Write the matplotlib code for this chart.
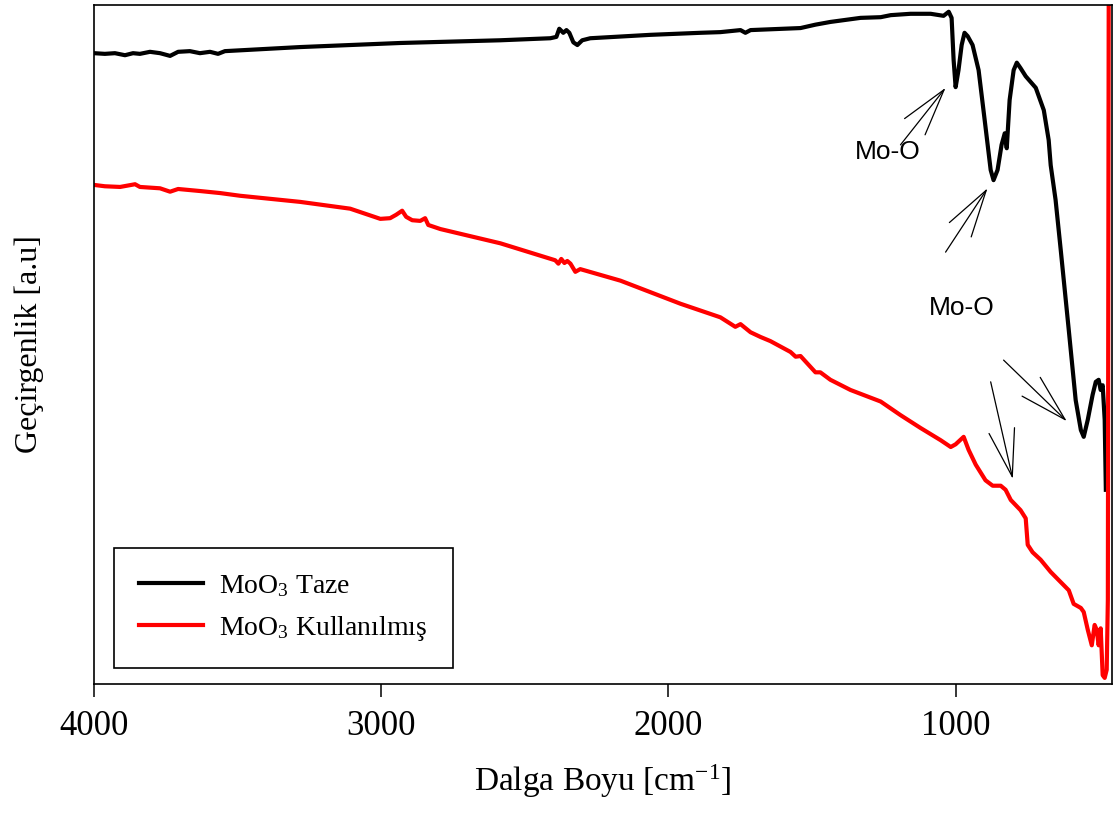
import matplotlib.pyplot as plt
import numpy as np

plt.rcParams['font.family'] = ['Liberation Serif', 'DejaVu Serif']
plt.rcParams['mathtext.fontset'] = 'custom'
plt.rcParams['mathtext.rm'] = 'Liberation Serif'
plt.rcParams['mathtext.it'] = 'Liberation Serif:italic'

# fresh sample
wn_taze = [4000, 3962, 3927, 3892, 3864, 3840, 3805, 3770, 3735, 3707, 3666, 3631, 3596, 3568, 3544,
           3282, 2934, 2585, 2411, 2390, 2380, 2366, 2355, 2345, 2331, 2317, 2300, 2272, 2063, 1889,
           1819, 1749, 1732, 1714, 1540, 1488, 1436, 1331, 1261, 1226, 1157, 1087, 1042, 1024, 1014,
           1007, 1000, 990, 979, 969, 958, 941, 920, 899, 878, 868, 854, 840, 829, 822, 812, 798, 787,
           774, 756, 721, 693, 676, 669, 652, 634, 606, 582, 564, 554, 540, 523, 512, 502, 495, 488,
           481, 477]
t_taze = [92.9, 92.8, 92.9, 92.6, 92.9, 92.8, 93.1, 92.9, 92.5, 93.1, 93.2, 92.9, 93.1, 92.8, 93.2,
          93.8, 94.4, 94.8, 95.1, 95.3, 96.5, 95.9, 96.3, 95.9, 94.5, 94.1, 94.8, 95.1, 95.6, 95.9,
          96.0, 96.3, 95.9, 96.3, 96.6, 97.1, 97.5, 98.1, 98.2, 98.5, 98.7, 98.7, 98.4, 99.0, 98.1,
          91.9, 87.9, 90.4, 94.1, 95.9, 95.4, 94.1, 90.4, 83.1, 75.7, 74.2, 75.7, 79.4, 81.1, 78.9,
          86.0, 90.4, 91.5, 90.7, 89.5, 87.8, 84.5, 80.1, 76.4, 71.3, 63.9, 52.1, 41.8, 37.4, 36.4,
          38.9, 42.6, 44.5, 44.8, 43.3, 44.0, 38.9, 28.6]

# used sample
wn_kul = [4000, 3962, 3909, 3857, 3840, 3770, 3735, 3707, 3631, 3561, 3491, 3282, 3108, 3003, 2969,
          2948, 2927, 2913, 2892, 2864, 2847, 2836, 2794, 2585, 2394, 2383, 2373, 2362, 2352, 2341,
          2324, 2307, 2167, 1958, 1819, 1767, 1749, 1714, 1679, 1645, 1575, 1557, 1540, 1488, 1471,
          1436, 1366, 1261, 1192, 1122, 1052, 1017, 1000, 972, 955, 930, 896, 871, 843, 826, 808,
          774, 756, 749, 732, 704, 669, 634, 606, 589, 564, 554, 540, 526, 516, 509, 502, 495, 488,
          481, 474, 470, 467]
t_kul = [73.5, 73.3, 73.2, 73.6, 73.2, 73.0, 72.5, 72.9, 72.6, 72.3, 71.9, 71.0, 70.0, 68.5, 68.6,
         69.1, 69.7, 68.8, 68.3, 68.2, 68.6, 67.6, 67.0, 64.9, 62.4, 61.9, 62.6, 62.0, 62.3, 61.9,
         60.7, 61.1, 59.4, 56.0, 54.0, 52.6, 53.0, 51.8, 51.1, 50.5, 48.9, 48.2, 48.3, 45.9, 45.9,
         44.8, 43.3, 41.6, 39.6, 37.7, 35.9, 34.9, 35.3, 36.4, 34.5, 32.3, 30.0, 29.2, 29.2, 28.6, 27.1,
         25.6, 24.4, 20.5, 19.4, 18.3, 16.5, 15.0, 13.8, 11.8, 11.2, 10.6, 8.0, 5.7, 8.7, 8.0, 5.7,
         8.2, 1.3, 0.9, 2.1, 12.4, 101.0]

fig = plt.figure(figsize=(11.2, 8.14), dpi=100)
ax = fig.add_axes([0.0839, 0.1597, 0.9091, 0.8342])

ax.plot(wn_taze, t_taze, color='black', lw=3.0, label=r'MoO$_3$ Taze')
ax.plot(wn_kul, t_kul, color='red', lw=3.0, label=r'MoO$_3$ Kullanılmış')

ax.set_xlim(4000, 455)
ax.set_ylim(0, 100)
ax.set_xticks([4000, 3000, 2000, 1000])
ax.set_yticks([])
ax.tick_params(axis='x', direction='out', length=9, width=1.1, pad=10, labelsize=25)
for s in ax.spines.values():
    s.set_linewidth(1.2)

ax.set_xlabel(r'Dalga Boyu [cm$^{\mathregular{-1}}$]', fontsize=24, labelpad=14)
ax.set_ylabel('Geçirgenlik [a.u]', fontsize=23, labelpad=36)

# peak labels
arrow = dict(arrowstyle='->,head_length=1.7,head_width=0.47', color='black', lw=0.9,
             shrinkA=0, shrinkB=0, mutation_scale=20)
ax.text(1237, 78.4, 'Mo-O', family='Liberation Sans', fontsize=19, ha='center', va='center')
ax.annotate('', xy=(1035, 87.8), xytext=(1192, 79.4), arrowprops=arrow)
ax.annotate('', xy=(889, 73.0), xytext=(1035, 63.6), arrowprops=arrow)
ax.text(979, 55.4, 'Mo-O', family='Liberation Sans', fontsize=19, ha='center', va='center')
ax.annotate('', xy=(613, 38.7), xytext=(833, 47.7), arrowprops=arrow)
ax.annotate('', xy=(801, 30.2), xytext=(878, 44.5), arrowprops=arrow)

leg = ax.legend(loc='lower left', bbox_to_anchor=(0.0196, 0.0236), borderaxespad=0,
                fontsize=20, fancybox=False, framealpha=1, edgecolor='black',
                handlelength=2.3, handletextpad=0.6, labelspacing=0.55, borderpad=0.9)
leg.get_frame().set_linewidth(1.2)
for h in leg.get_lines():
    h.set_linewidth(3.0)

fig.savefig('out.png', dpi=100)
